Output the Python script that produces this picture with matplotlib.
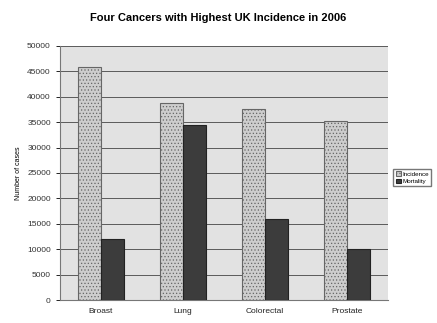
import numpy as np
import matplotlib.pyplot as plt

plt.rcParams['font.family'] = ['Liberation Sans', 'DejaVu Sans']
plt.rcParams['hatch.color'] = '#a8a8a8'
plt.rcParams['hatch.linewidth'] = 0.5

# data
cancers = ['Broast', 'Lung', 'Colorectal', 'Prostate']
incidence = [45800, 38800, 37500, 35200]
mortality = [12000, 34400, 16000, 10000]

fig = plt.figure(figsize=(4.37, 3.23), dpi=100)
ax = fig.add_axes([0.137, 0.071, 0.751, 0.787])
ax.set_facecolor('#e2e2e2')

x = np.arange(len(cancers))
w = 0.28
ax.bar(x - w/2, incidence, w, color='#cdcdcd', edgecolor='#666666', linewidth=0.8,
       hatch='.....', label='Incidence', zorder=3)
ax.bar(x + w/2, mortality, w, color='#3c3c3c', edgecolor='#222222', linewidth=0.8,
       label='Mortality', zorder=3)

ax.set_xlim(-0.5, 3.5)
ax.set_ylim(0, 50000)
ax.set_yticks(np.arange(0, 50001, 5000))
ax.set_xticks(x)
ax.set_xticklabels(cancers, fontsize=6, color='#222222')
ax.tick_params(axis='y', labelsize=6, length=3, width=0.6, labelcolor='#333333')
ax.tick_params(axis='x', length=0, pad=6)
ax.yaxis.grid(True, color='#5a5a5a', linewidth=0.7, zorder=1)
ax.set_axisbelow(True)
for s in ['top', 'right']:
    ax.spines[s].set_visible(False)
ax.spines['left'].set_color('#777777')
ax.spines['bottom'].set_color('#777777')

ax.set_ylabel('Number of cases', fontsize=5)
fig.suptitle('Four Cancers with Highest UK Incidence in 2006', fontsize=8,
             fontweight='bold', y=0.96)

fig.legend(loc='center left', bbox_to_anchor=(0.893, 0.45), fontsize=4.5,
           frameon=True, fancybox=False, edgecolor='#555555', handlelength=0.8,
           handleheight=0.8, handletextpad=0.3, borderpad=0.35, labelspacing=0.3)

fig.savefig('out.png', dpi=100)
